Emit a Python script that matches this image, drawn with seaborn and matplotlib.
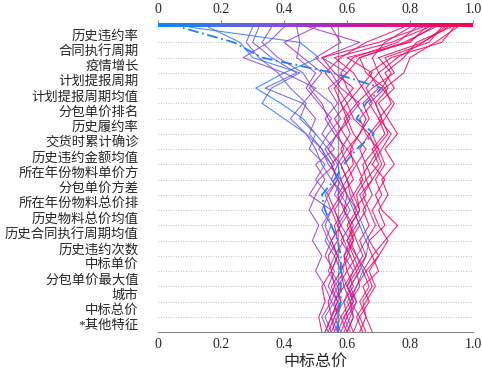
import numpy as np
import pandas as pd
import seaborn as sns
import matplotlib.pyplot as plt
from matplotlib.colors import LinearSegmentedColormap

# feature names, top to bottom
features = ["历史违约率", "合同执行周期", "疫情增长", "计划提报周期", "计划提报周期均值",
            "分包单价排名", "历史履约率", "交货时累计确诊", "历史违约金额均值", "所在年份物料单价方",
            "分包单价方差", "所在年份物料总价排", "历史物料总价均值", "历史合同执行周期均值",
            "历史违约次数", "中标单价", "分包单价最大值", "城市", "中标总价", "*其他特征"]
base_value = 0.571

# cumulative model output per sample, from bottom row (0) to top (20)
paths = {
    "p1": [0.60, 0.62, 0.61, 0.64, 0.63, 0.66, 0.64, 0.67, 0.65, 0.68, 0.66, 0.70, 0.68, 0.72, 0.70, 0.74, 0.72, 0.78, 0.80, 0.88, 0.95],
    "p2": [0.55, 0.57, 0.56, 0.59, 0.58, 0.60, 0.62, 0.61, 0.64, 0.63, 0.66, 0.65, 0.69, 0.67, 0.71, 0.69, 0.73, 0.70, 0.76, 0.84, 0.92],
    "p3": [0.52, 0.51, 0.53, 0.52, 0.55, 0.54, 0.57, 0.56, 0.59, 0.60, 0.58, 0.62, 0.61, 0.64, 0.66, 0.63, 0.68, 0.75, 0.72, 0.86, 0.90],
    "p4": [0.66, 0.64, 0.67, 0.65, 0.70, 0.68, 0.72, 0.76, 0.71, 0.69, 0.72, 0.68, 0.71, 0.74, 0.70, 0.67, 0.72, 0.66, 0.64, 0.78, 0.88],
    "p5": [0.58, 0.60, 0.59, 0.62, 0.60, 0.63, 0.61, 0.64, 0.62, 0.66, 0.64, 0.67, 0.70, 0.66, 0.64, 0.68, 0.65, 0.62, 0.56, 0.74, 0.86],
    "p6": [0.62, 0.60, 0.63, 0.61, 0.64, 0.62, 0.60, 0.63, 0.66, 0.64, 0.68, 0.66, 0.64, 0.67, 0.62, 0.60, 0.64, 0.68, 0.60, 0.80, 0.85],
    "p7": [0.54, 0.56, 0.58, 0.57, 0.60, 0.59, 0.62, 0.60, 0.63, 0.61, 0.60, 0.63, 0.66, 0.62, 0.60, 0.58, 0.62, 0.56, 0.52, 0.70, 0.84],
    "p8": [0.64, 0.66, 0.65, 0.68, 0.66, 0.70, 0.67, 0.72, 0.70, 0.73, 0.71, 0.75, 0.72, 0.76, 0.73, 0.70, 0.75, 0.72, 0.78, 0.82, 0.93],
    "p9": [0.56, 0.55, 0.57, 0.55, 0.58, 0.56, 0.59, 0.57, 0.55, 0.58, 0.62, 0.60, 0.58, 0.61, 0.59, 0.63, 0.60, 0.58, 0.62, 0.76, 0.82],
    "p10": [0.68, 0.66, 0.64, 0.67, 0.65, 0.68, 0.66, 0.69, 0.67, 0.65, 0.68, 0.71, 0.69, 0.73, 0.71, 0.69, 0.66, 0.70, 0.68, 0.72, 0.80],
    "p11": [0.53, 0.55, 0.54, 0.56, 0.55, 0.57, 0.55, 0.58, 0.56, 0.54, 0.57, 0.55, 0.59, 0.57, 0.61, 0.58, 0.56, 0.60, 0.64, 0.79, 0.87],
    "p12": [0.60, 0.58, 0.61, 0.59, 0.62, 0.65, 0.63, 0.61, 0.64, 0.62, 0.65, 0.63, 0.60, 0.64, 0.67, 0.65, 0.70, 0.67, 0.74, 0.90, 0.94],
    "p13": [0.57, 0.59, 0.62, 0.60, 0.63, 0.61, 0.58, 0.61, 0.59, 0.62, 0.60, 0.58, 0.62, 0.59, 0.56, 0.60, 0.57, 0.53, 0.58, 0.66, 0.78],
    "p14": [0.65, 0.63, 0.66, 0.69, 0.67, 0.70, 0.73, 0.70, 0.68, 0.71, 0.69, 0.72, 0.70, 0.68, 0.72, 0.75, 0.71, 0.74, 0.70, 0.84, 0.91],
    "q1": [0.56, 0.58, 0.55, 0.57, 0.54, 0.56, 0.53, 0.55, 0.52, 0.54, 0.50, 0.53, 0.48, 0.50, 0.45, 0.47, 0.42, 0.38, 0.32, 0.28, 0.30],
    "q2": [0.61, 0.59, 0.62, 0.60, 0.58, 0.61, 0.59, 0.57, 0.60, 0.56, 0.58, 0.54, 0.52, 0.48, 0.50, 0.46, 0.50, 0.40, 0.27, 0.35, 0.40],
    "q3": [0.54, 0.52, 0.55, 0.53, 0.50, 0.52, 0.49, 0.51, 0.48, 0.50, 0.53, 0.50, 0.56, 0.52, 0.55, 0.51, 0.47, 0.50, 0.44, 0.45, 0.44],
    "q4": [0.59, 0.61, 0.63, 0.60, 0.62, 0.59, 0.61, 0.58, 0.56, 0.59, 0.55, 0.57, 0.60, 0.56, 0.53, 0.57, 0.54, 0.60, 0.52, 0.64, 0.48],
    "q5": [0.55, 0.53, 0.56, 0.58, 0.55, 0.57, 0.54, 0.52, 0.55, 0.53, 0.57, 0.55, 0.51, 0.54, 0.58, 0.55, 0.49, 0.46, 0.38, 0.33, 0.36],
    "q6": [0.62, 0.64, 0.61, 0.63, 0.66, 0.63, 0.60, 0.62, 0.59, 0.57, 0.60, 0.58, 0.54, 0.57, 0.60, 0.64, 0.58, 0.55, 0.50, 0.58, 0.55],
    "q7": [0.57, 0.55, 0.58, 0.56, 0.59, 0.57, 0.55, 0.58, 0.61, 0.58, 0.55, 0.52, 0.50, 0.47, 0.42, 0.46, 0.34, 0.44, 0.36, 0.30, 0.32],
    "q8": [0.53, 0.55, 0.57, 0.54, 0.56, 0.53, 0.55, 0.53, 0.55, 0.48, 0.51, 0.56, 0.53, 0.57, 0.54, 0.52, 0.48, 0.52, 0.46, 0.40, 0.50],
    "b1": [0.60, 0.62, 0.60, 0.63, 0.65, 0.63, 0.66, 0.64, 0.62, 0.60, 0.58, 0.57, 0.54, 0.50, 0.46, 0.39, 0.31, 0.40, 0.51, 0.45, 0.10],
    "b2": [0.58, 0.56, 0.59, 0.61, 0.64, 0.66, 0.67, 0.65, 0.63, 0.60, 0.57, 0.55, 0.52, 0.47, 0.40, 0.33, 0.36, 0.45, 0.30, 0.26, 0.16],
}
highlight = [0.57, 0.57, 0.58, 0.58, 0.58, 0.58, 0.57, 0.55, 0.53, 0.52, 0.56, 0.59, 0.63, 0.685, 0.63, 0.66, 0.71, 0.555, 0.33, 0.24, 0.07]

cmap = LinearSegmentedColormap.from_list(
    "shap_rb", ["#008bfb", "#4a6ff5", "#8a48e0", "#c01aa8", "#f00a75", "#ff0051"])

rows = np.arange(len(features) + 1)
df = pd.concat([pd.DataFrame({"id": k, "value": v, "row": rows, "final": v[-1]})
                for k, v in paths.items()], ignore_index=True)
hl = pd.DataFrame({"value": highlight, "row": rows})

sns.set_style("white")
plt.rcParams["font.family"] = ["Liberation Serif", "Noto Sans CJK SC"]

fig = plt.figure(figsize=(4.82, 3.74), dpi=100)
ax = fig.add_axes([0.328, 0.112, 0.6535, 0.8155])

for i in range(1, len(features)):
    ax.axhline(i, color="#aaaaaa", lw=0.6, dashes=(1, 2), zorder=0)
ax.axvline(base_value, color="#999999", lw=1, zorder=1)

sns.lineplot(data=df, x="value", y="row", hue="final", units="id", estimator=None,
             sort=False, orient="y", palette=cmap, hue_norm=(0, 1), lw=0.75,
             alpha=0.9, legend=False, ax=ax)
ax.plot(hl["value"], hl["row"], color=cmap(highlight[-1]), lw=1.3,
        linestyle=(0, (6, 2, 1, 2)), zorder=3)

ax.set_xlim(0, 1)
ax.set_ylim(0, len(features))
ax.set_yticks(np.arange(len(features)) + 0.5)
ax.set_yticklabels(features[::-1], fontsize=9.6)
ax.tick_params(axis="y", length=0, pad=14)
ax.set_xticks([0, 0.2, 0.4, 0.6, 0.8, 1.0])
ax.set_xticklabels(["0", "0.2", "0.4", "0.6", "0.8", "1.0"], fontsize=10)
ax.tick_params(axis="x", length=3, color="#888888", direction="in", pad=4)
for s in ["left", "right", "top"]:
    ax.spines[s].set_visible(False)
ax.spines["bottom"].set_color("#888888")
ax.set_xlabel("中标总价", fontsize=11.5, labelpad=2)
ax.set_ylabel("")

# colour bar on top
cax = fig.add_axes([0.328, 0.9278, 0.6535, 0.011])
cax.imshow(np.linspace(0, 1, 256)[None, :], cmap=cmap, aspect="auto",
           extent=[0, 1, 0, 1])
cax.set_xlim(0, 1)
cax.set_yticks([])
cax.xaxis.tick_top()
cax.set_xticks([0, 0.2, 0.4, 0.6, 0.8, 1.0])
cax.set_xticklabels(["0", "0.2", "0.4", "0.6", "0.8", "1.0"], fontsize=10)
cax.tick_params(axis="x", length=2, color="#888888", pad=3)
for s in cax.spines.values():
    s.set_visible(False)

plt.savefig("out.png", dpi=100)
plt.close()
